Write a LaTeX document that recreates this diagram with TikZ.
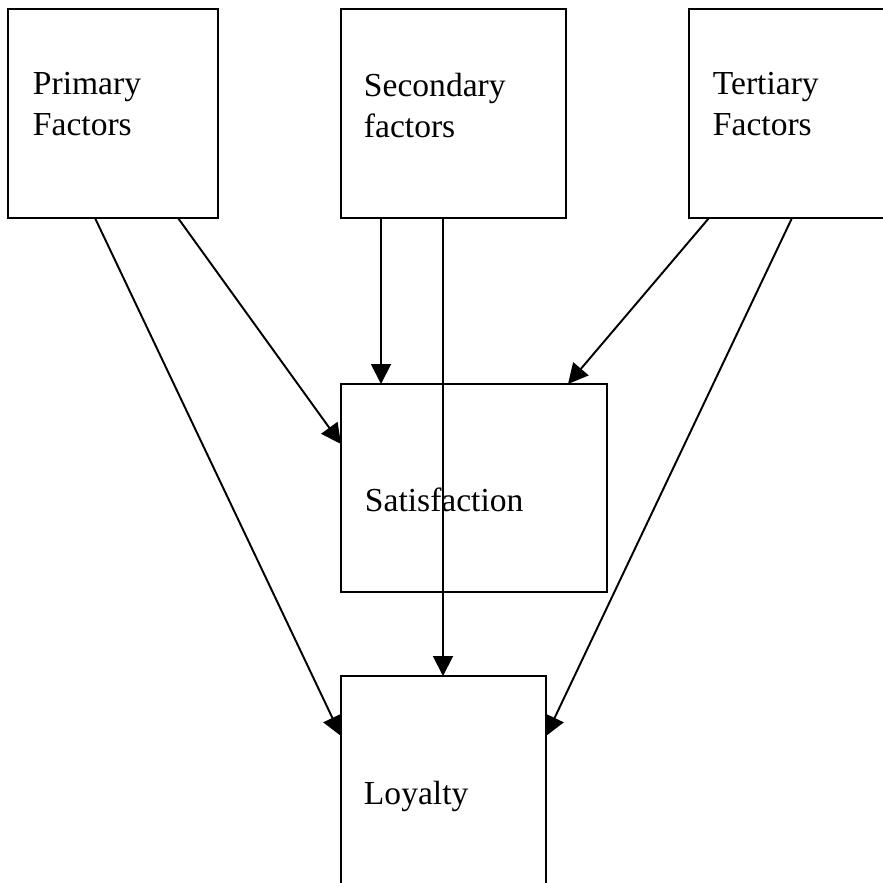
\documentclass[tikz,border=0pt]{standalone}
\usepackage{fontspec}
\setmainfont{Liberation Serif}
\usetikzlibrary{arrows.meta,positioning}

\begin{document}
\begin{tikzpicture}[node distance=2.46cm,>={Triangle[length=0.4cm,width=0.4cm]},line width=1.1pt,
  factor/.style={draw,outer sep=0pt,inner sep=0pt,minimum height=4.18cm},
  lbl/.style={inner sep=0pt,align=left,font=\fontsize{19.1pt}{23.3pt}\selectfont}]
  \useasboundingbox (0,0) rectangle (17.66,-17.66);
  \node[factor,minimum width=4.2cm,anchor=north west] (prim) at (0.16,-0.18) {};
  \node[factor,minimum width=4.5cm,right=of prim] (sec) {};
  \node[factor,minimum width=3.96cm,right=of sec] (tert) {};
  \node[factor,minimum width=5.32cm,minimum height=4.16cm,
        below=3.32cm of sec.south west,anchor=north west] (sat) {};
  \node[factor,minimum width=4.1cm,minimum height=4.2cm,
        below=1.68cm of sat.south west,anchor=north west] (loy) {};

  \node[lbl,below right=1.24cm and 0.48cm of prim.north west] (prim-txt) {Primary\\Factors};
  \node[lbl,below right=1.26cm and 0.44cm of sec.north west] (sec-txt) {Secondary\\factors};
  \node[lbl,below right=1.24cm and 0.46cm of tert.north west] (tert-txt) {Tertiary\\Factors};
  \node[lbl,below right=2.06cm and 0.46cm of sat.north west] (sat-txt) {Satisfaction};
  \node[lbl,below right=2.08cm and 0.44cm of loy.north west] (loy-txt) {Loyalty};

  \draw[->] ([xshift=1.74cm]prim.south west) -- ([yshift=-1.2cm]loy.north west);
  \draw[->] ([xshift=3.4cm]prim.south west) -- ([yshift=-1.2cm]sat.north west);
  \draw[->] ([xshift=0.8cm]sec.south west) -- ([xshift=0.8cm]sat.north west);
  \draw[->] ([xshift=2.04cm]sec.south west) -- ([xshift=2.04cm]loy.north west);
  \draw[->] ([xshift=0.4cm]tert.south west) -- ([xshift=4.54cm]sat.north west);
  \draw[->] ([xshift=2.06cm]tert.south west) -- ([yshift=-1.2cm]loy.north east);
\end{tikzpicture}
\end{document}
